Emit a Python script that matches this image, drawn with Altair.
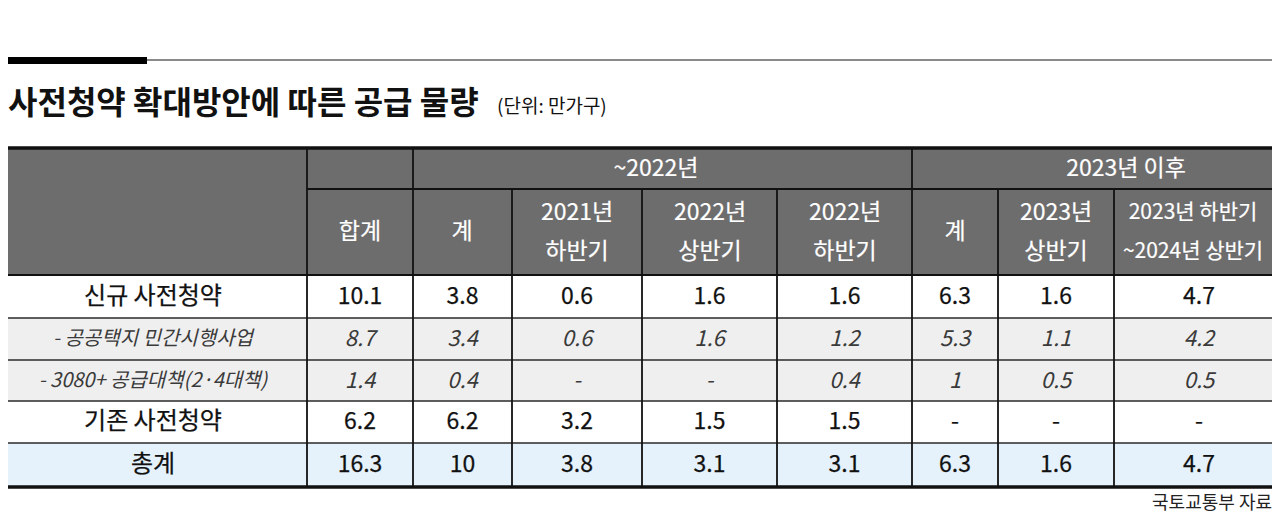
import altair as alt
import pandas as pd

# ---------------- data ----------------
title = "사전청약 확대방안에 따른 공급 물량"
unit = "(단위: 만가구)"
source = "국토교통부 자료"

group_headers = ["~2022년", "2023년 이후"]
col_headers = ["합계", "계", "2021년\n하반기", "2022년\n상반기", "2022년\n하반기",
               "계", "2023년\n상반기", "2023년 하반기\n~2024년 상반기"]
row_labels = ["신규 사전청약", "- 공공택지 민간시행사업", "- 3080+ 공급대책(2·4대책)",
              "기존 사전청약", "총계"]
row_new = [10.1, 3.8, 0.6, 1.6, 1.6, 6.3, 1.6, 4.7]
row_public = [8.7, 3.4, 0.6, 1.6, 1.2, 5.3, 1.1, 4.2]
row_3080 = [1.4, 0.4, None, None, 0.4, 1, 0.5, 0.5]
row_existing = [6.2, 6.2, 3.2, 1.5, 1.5, None, None, None]
row_total = [16.3, 10, 3.8, 3.1, 3.1, 6.3, 1.6, 4.7]
rows = [row_new, row_public, row_3080, row_existing, row_total]

# ---------------- layout ----------------
W, H = 1264, 507
X0 = 8                      # page margin: chart pixel 0 == reference pixel 8
col_edges = [0, 307, 413, 512, 642, 777, 912, 998, 1114, 1284]
row_edges = [148, 189, 275, 318, 360, 401, 443, 487]
group_centers = [656, 1126]
header_centers = [360, 462, 577, 710, 845, 955, 1056, 1193]
header_sizes = [23, 23, 23, 23, 23, 23, 23, 21]
label_center = 153
row_fills = ["#ffffff", "#efefef", "#efefef", "#ffffff", "#e5f1fb"]
italic_rows = [1, 2]
LINE_H = 39

xs = alt.Scale(domain=[X0, X0 + W], nice=False, zero=False)
ys = alt.Scale(domain=[X0 + H, X0], nice=False, zero=False)


def fmt(v):
    return "-" if v is None else f"{v:g}"


def cx(i):
    return (col_edges[i] + col_edges[i + 1]) / 2


def cy(i):
    return (row_edges[i] + row_edges[i + 1]) / 2


# rect fills
rects = [dict(x0=0, x1=1280, y0=row_edges[0], y1=row_edges[2], fill="#6e6d6e")]
for r, f in enumerate(row_fills):
    rects.append(dict(x0=0, x1=1280, y0=row_edges[r + 2], y1=row_edges[r + 3], fill=f))
rects_df = pd.DataFrame(rects)

# lines
lines = []
lines.append(dict(x0=0, x1=1280, y0=row_edges[0], y1=row_edges[0], w=3.5, c="#111111"))
lines.append(dict(x0=col_edges[1], x1=1280, y0=row_edges[1], y1=row_edges[1], w=2, c="#111111"))
lines.append(dict(x0=0, x1=1280, y0=row_edges[2], y1=row_edges[2], w=2, c="#111111"))
for yv in row_edges[3:-1]:
    lines.append(dict(x0=0, x1=1280, y0=yv, y1=yv, w=1.3, c="#2a2a2a"))
lines.append(dict(x0=0, x1=1280, y0=row_edges[-1], y1=row_edges[-1], w=3.5, c="#111111"))
for i in [1, 2, 6]:
    lines.append(dict(x0=col_edges[i], x1=col_edges[i], y0=row_edges[0], y1=row_edges[-1], w=1.8, c="#111111"))
for i in [3, 4, 5, 7, 8]:
    lines.append(dict(x0=col_edges[i], x1=col_edges[i], y0=row_edges[1], y1=row_edges[-1], w=1.8, c="#111111"))
# top decoration
lines.append(dict(x0=147, x1=1280, y0=60, y1=60, w=2, c="#8a8a8a"))
lines.append(dict(x0=0, x1=147, y0=60.5, y1=60.5, w=7, c="#000000"))
lines_df = pd.DataFrame(lines)

# header text (multi-line blocks centred vertically)
hdr = [dict(x=group_centers[g], y=cy(0), t=group_headers[g], s=23) for g in range(2)]
for j, h in enumerate(col_headers):
    n = h.count("\n") + 1
    hdr.append(dict(x=header_centers[j], y=cy(1) - (n - 1) * LINE_H / 2, t=h, s=header_sizes[j]))
hdr_df = pd.DataFrame(hdr)

# body text
main_txt, italic_txt = [], []
for r, vals in enumerate(rows):
    target = italic_txt if r in italic_rows else main_txt
    label_size = 20 if r in italic_rows else 24
    target.append(dict(x=label_center, y=cy(r + 2), t=row_labels[r], s=label_size))
    for j, v in enumerate(vals):
        target.append(dict(x=cx(j + 1), y=cy(r + 2), t=fmt(v), s=23 if r not in italic_rows else 22))
main_df = pd.DataFrame(main_txt)
italic_df = pd.DataFrame(italic_txt)

title_df = pd.DataFrame([dict(x=X0, y=104, t=title)])
unit_df = pd.DataFrame([dict(x=497, y=107, t=unit)])
src_df = pd.DataFrame([dict(x=1272, y=504, t=source)])

FONT = "Noto Sans CJK KR"


def pos():
    return dict(x=alt.X("x:Q", scale=xs, axis=None),
                y=alt.Y("y:Q", scale=ys, axis=None))


rect_layer = alt.Chart(rects_df).mark_rect(strokeWidth=0).encode(
    x=alt.X("x0:Q", scale=xs, axis=None), x2="x1:Q",
    y=alt.Y("y0:Q", scale=ys, axis=None), y2="y1:Q",
    color=alt.Color("fill:N", scale=None),
)

line_layer = alt.Chart(lines_df).mark_rule().encode(
    x=alt.X("x0:Q", scale=xs, axis=None), x2="x1:Q",
    y=alt.Y("y0:Q", scale=ys, axis=None), y2="y1:Q",
    color=alt.Color("c:N", scale=None),
    strokeWidth=alt.StrokeWidth("w:Q", scale=None),
)

hdr_layer = alt.Chart(hdr_df).mark_text(
    font=FONT, color="#ffffff", align="center", baseline="middle",
    lineBreak="\n", lineHeight=LINE_H, stroke="#ffffff", strokeWidth=0.2,
).encode(**pos(), text="t:N", size=alt.Size("s:Q", scale=None))

main_layer = alt.Chart(main_df).mark_text(
    font=FONT, color="#111111", align="center", baseline="middle",
    stroke="#111111", strokeWidth=0.25,
).encode(**pos(), text="t:N", size=alt.Size("s:Q", scale=None))

italic_layer = alt.Chart(italic_df).mark_text(
    font=FONT, color="#3a3a3a", align="center", baseline="middle", fontStyle="italic",
).encode(**pos(), text="t:N", size=alt.Size("s:Q", scale=None))

title_layer = alt.Chart(title_df).mark_text(
    font=FONT, fontSize=32, fontWeight="bold", color="#111111", align="left", baseline="middle",
).encode(**pos(), text="t:N")

unit_layer = alt.Chart(unit_df).mark_text(
    font=FONT, fontSize=19, color="#111111", align="left", baseline="middle",
).encode(**pos(), text="t:N")

src_layer = alt.Chart(src_df).mark_text(
    font=FONT, fontSize=18, color="#222222", align="right", baseline="middle",
).encode(**pos(), text="t:N")

chart = alt.layer(
    rect_layer, line_layer, hdr_layer, main_layer, italic_layer,
    title_layer, unit_layer, src_layer,
).properties(width=W, height=H, padding=0, autosize="none").configure_view(stroke=None)

chart.save("out.html", embed_options={"renderer": "svg", "actions": False})
